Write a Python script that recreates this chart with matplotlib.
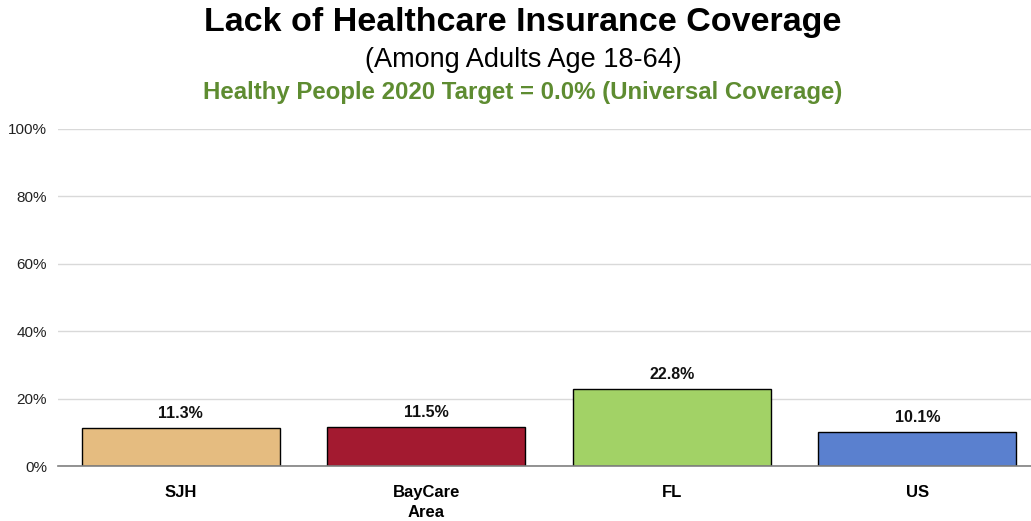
import matplotlib.pyplot as plt
from matplotlib import font_manager

# data
categories = ["SJH", "BayCare\nArea", "FL", "US"]
values = [11.3, 11.5, 22.8, 10.1]
bar_colors = ["#E5BC80", "#A31A30", "#A2D266", "#5A80CF"]
y_ticks = [0, 20, 40, 60, 80, 100]

names = {f.name for f in font_manager.fontManager.ttflist}
font = "Liberation Sans Narrow" if "Liberation Sans Narrow" in names else "Liberation Sans"
plt.rcParams['font.family'] = [font, 'DejaVu Sans']

W, H = 1031, 521
fig = plt.figure(figsize=(W / 100, H / 100), dpi=100)

# plot area (pixel coords measured from reference)
left, right, top, bottom = 58, 1040, 129, 466
ax = fig.add_axes([left / W, (H - bottom) / H, (right - left) / W, (bottom - top) / H])

x = range(len(categories))
ax.bar(x, values, width=0.805, color=bar_colors, edgecolor="black", linewidth=1, zorder=3)

for xi, v in zip(x, values):
    ax.text(xi, v + 2.2, f"{v:.1f}%", ha="center", va="bottom",
            fontsize=11.5, fontweight="bold", color="#111111")

ax.set_xlim(-0.5, 3.5)
ax.set_ylim(0, 100)
ax.set_yticks(y_ticks)
ax.set_yticklabels([f"{t}%" for t in y_ticks], fontsize=11, color="#222222")
ax.set_xticks(list(x))
ax.set_xticklabels(categories, fontsize=12, fontweight="bold", linespacing=1.4)
ax.tick_params(axis="both", length=0)
ax.tick_params(axis="y", pad=8)
ax.tick_params(axis="x", pad=14)
for lbl in ax.get_xticklabels():
    lbl.set_verticalalignment("top")

ax.grid(axis="y", color="#D9D9D9", linewidth=1, zorder=0)
for s in ["top", "right", "left"]:
    ax.spines[s].set_visible(False)
ax.spines["bottom"].set_color("#808080")
ax.spines["bottom"].set_linewidth(1.2)
ax.spines["bottom"].set_zorder(4)

# titles
fig.text(523 / W, 1 - 23 / H, "Lack of Healthcare Insurance Coverage", ha="center", va="center",
         fontsize=24.5, fontweight="bold", color="black")
fig.text(523 / W, 1 - 60 / H, "(Among Adults Age 18-64)", ha="center", va="center",
         fontsize=19.5, color="black")
fig.text(523 / W, 1 - 93 / H, "Healthy People 2020 Target = 0.0% (Universal Coverage)",
         ha="center", va="center", fontsize=17.3, fontweight="bold", color="#5E8C31")

fig.savefig("out.png", dpi=100)
